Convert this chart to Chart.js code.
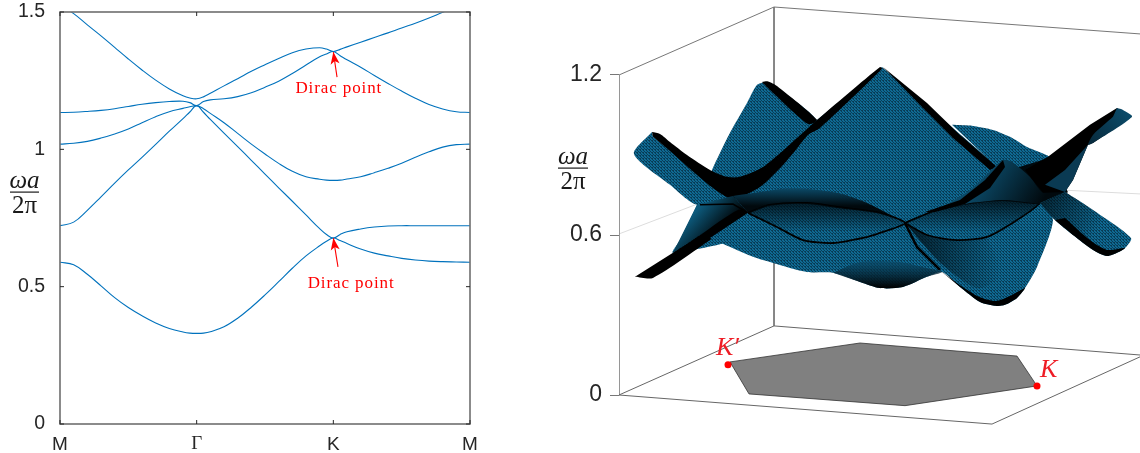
<!DOCTYPE html>
<html>
<head>
<meta charset="utf-8">
<title>Dirac points</title>
<script src="https://cdn.jsdelivr.net/npm/chart.js@4"></script>
<style>
  html, body { margin: 0; background: #fff; overflow: hidden; }
  canvas { position: absolute; top: 0; }
  #bandChart { left: 0; }
  #surfaceChart { left: 530px; }
</style>
</head>
<body>
<canvas id="bandChart" width="500" height="453"></canvas>
<canvas id="surfaceChart" width="610" height="453"></canvas>
<script>
// band diagram
const kPath = [0, 0.1, 0.2, 0.3, 0.4, 0.5, 0.6, 0.7, 0.8, 0.9, 0.95, 1, 1.05, 1.1, 1.2, 1.3, 1.4, 1.5, 1.6, 1.7, 1.8, 1.9, 1.95, 2, 2.05, 2.1, 2.2, 2.3, 2.4, 2.5, 2.6, 2.7, 2.8, 2.9, 3];
const kLabels = ["M", "Γ", "K", "M"];
const freqTicks = [0, 0.5, 1, 1.5];
const band1 = [0.589, 0.58, 0.545, 0.503, 0.46, 0.424, 0.394, 0.368, 0.348, 0.335, 0.331, 0.33, 0.331, 0.336, 0.354, 0.385, 0.425, 0.47, 0.518, 0.567, 0.612, 0.649, 0.665, 0.677, 0.668, 0.657, 0.637, 0.622, 0.612, 0.603, 0.597, 0.593, 0.591, 0.59, 0.589];
const band2 = [0.722, 0.735, 0.778, 0.827, 0.877, 0.925, 0.971, 1.018, 1.066, 1.112, 1.136, 1.159, 1.135, 1.109, 1.059, 1.01, 0.96, 0.91, 0.86, 0.811, 0.761, 0.711, 0.69, 0.677, 0.69, 0.7, 0.71, 0.717, 0.721, 0.722, 0.722, 0.722, 0.722, 0.722, 0.722];
const band3 = [1.019, 1.022, 1.029, 1.041, 1.056, 1.074, 1.097, 1.119, 1.137, 1.149, 1.155, 1.159, 1.148, 1.131, 1.097, 1.058, 1.019, 0.983, 0.949, 0.92, 0.9, 0.891, 0.888, 0.887, 0.888, 0.892, 0.9, 0.915, 0.931, 0.949, 0.971, 0.991, 1.008, 1.017, 1.019];
const band4 = [1.134, 1.135, 1.138, 1.142, 1.148, 1.156, 1.164, 1.17, 1.174, 1.175, 1.17, 1.159, 1.174, 1.18, 1.184, 1.192, 1.206, 1.226, 1.248, 1.276, 1.307, 1.337, 1.347, 1.356, 1.341, 1.326, 1.299, 1.269, 1.24, 1.212, 1.186, 1.163, 1.147, 1.137, 1.134];
const band5 = [1.525, 1.494, 1.453, 1.413, 1.371, 1.329, 1.289, 1.252, 1.22, 1.195, 1.187, 1.184, 1.191, 1.204, 1.231, 1.257, 1.284, 1.308, 1.331, 1.352, 1.365, 1.37, 1.365, 1.356, 1.364, 1.373, 1.39, 1.407, 1.424, 1.442, 1.459, 1.478, 1.499, 1.518, 1.532];
const diracArrows = [[2.027, 1.263, 2, 1.354], [2.034, 0.572, 2, 0.677]];
const diracNotes = [[2.04, 1.222], [2.13, 0.513]];

// 3d panel: outlines as seen in the picture, [across, projected frequency]
const surfaceTicks = [0, 0.6, 1.2];
const boxBack = [[619, 1.2], [774, 1.455], [1140, 1.354]];
const boxBackPost = [[774, 1.455], [774, 0.259]];
const boxPost = [[619, 1.2], [619, 0]];
const boxFloorBack = [[619, 0], [774, 0.259], [1140, 0.15]];
const boxFloorFront = [[619, 0], [992, -0.109], [1140, 0.143]];
const gridLeft = [[619, 0.604], [700, 0.72]];
const gridRight = [[1065, 0.768], [1140, 0.754]];
const zonePatch = [[730, 0.124], [860, 0.195], [1017, 0.146], [1037, 0.034], [905, -0.04], [749, 0.004], [730, 0.124]];
const kPrimePoint = [[728, 0.113]];
const kPoint = [[1037, 0.034]];

const wingBack = [[952, 1.013], [973, 1.009], [993, 0.994], [1010, 0.968], [1027, 0.93], [1050, 0.889], [1027, 0.836], [1000, 0.844]];
const finBack = [[765, 1.174], [757, 1.163], [747, 1.095], [730, 0.983], [712, 0.844], [697, 0.713], [680, 0.581], [673, 0.533], [760, 0.619], [825, 0.919], [817, 1.031], [778, 1.151]];
const finBackEdge = [[762, 1.174], [768, 1.176], [777, 1.159], [817, 1.031], [808, 1.016], [770, 1.144]];
const pyramid = [[882, 1.23], [990, 0.881], [1003, 0.836], [1020, 0.731], [905, 0.645], [748, 0.683], [735, 0.739], [770, 0.844], [817, 1.031]];
const ridgeRight = [[883, 1.23], [927, 1.095], [960, 0.975], [997, 0.855], [990, 0.844], [953, 0.964], [923, 1.076]];
const finFront = [[652, 0.986], [634, 0.904], [670, 0.788], [697, 0.713], [730, 0.739], [733, 0.743], [717, 0.776], [697, 0.836], [670, 0.919], [653, 0.968]];
const ridgeLeft = [[652, 0.986], [660, 0.979], [670, 0.949], [687, 0.9], [710, 0.844], [727, 0.818], [740, 0.818], [763, 0.855], [787, 0.93], [817, 1.031], [880, 1.23], [882, 1.223], [820, 1.001], [808, 0.975], [795, 0.915], [780, 0.85], [760, 0.78], [733, 0.735], [717, 0.765], [697, 0.825], [670, 0.915], [653, 0.968]];
const sheetLeft = [[697, 0.713], [673, 0.533], [700, 0.6], [738, 0.675], [748, 0.683], [733, 0.746]];
const stripLeft = [[635, 0.443], [653, 0.439], [710, 0.581], [748, 0.683], [738, 0.694], [700, 0.6], [673, 0.533]];
const crossLeft = [[700, 0.713], [733, 0.716], [748, 0.683]];
const lensUpper = [[733, 0.746], [760, 0.761], [793, 0.776], [837, 0.758], [867, 0.72], [905, 0.645], [880, 0.683], [837, 0.705], [807, 0.72], [770, 0.713], [748, 0.683]];
const sheetFront = [[748, 0.683], [777, 0.63], [803, 0.581], [833, 0.57], [863, 0.589], [880, 0.608], [905, 0.645], [927, 0.6], [957, 0.581], [987, 0.593], [1017, 0.656], [1040, 0.72], [1053, 0.656], [1037, 0.48], [1025, 0.401], [1017, 0.364], [1005, 0.338], [997, 0.334], [980, 0.349], [960, 0.405], [942, 0.461], [927, 0.443], [903, 0.405], [880, 0.401], [860, 0.424], [833, 0.458], [807, 0.461], [773, 0.495], [753, 0.518], [710, 0.589]];
const lobeDark = [[833, 0.458], [860, 0.499], [900, 0.499], [927, 0.476], [942, 0.461], [927, 0.443], [903, 0.405], [880, 0.401], [860, 0.424]];
const creaseShade = [[905, 0.645], [942, 0.49], [978, 0.4], [1000, 0.45], [985, 0.593], [957, 0.581], [927, 0.6]];
const edgeFront = [[942, 0.461], [960, 0.412], [980, 0.367], [997, 0.353], [1012, 0.375], [1025, 0.401], [1017, 0.364], [1005, 0.338], [997, 0.334], [980, 0.349], [960, 0.405]];
const creaseFront = [[905, 0.645], [917, 0.555], [940, 0.469]];
const lensMiddle = [[748, 0.683], [770, 0.713], [807, 0.72], [837, 0.705], [880, 0.683], [905, 0.645], [880, 0.608], [863, 0.589], [833, 0.57], [803, 0.581], [777, 0.63], [748, 0.683]];
const lensRight = [[905, 0.645], [937, 0.694], [970, 0.72], [1003, 0.731], [1033, 0.72], [1040, 0.72], [1017, 0.656], [987, 0.593], [957, 0.581], [927, 0.6], [905, 0.645]];
const gapRight = [[1015, 0.85], [1050, 0.89], [1068, 0.76], [1040, 0.715], [1015, 0.73]];
const capRight = [[937, 0.694], [970, 0.769], [1003, 0.881], [1012, 0.874], [1030, 0.818], [1043, 0.758], [1065, 0.761], [1040, 0.72], [1033, 0.72], [1003, 0.731], [970, 0.72]];
const ridgeCap = [[925, 0.686], [960, 0.731], [985, 0.806], [1003, 0.881], [1005, 0.855], [990, 0.776], [965, 0.716], [935, 0.686]];
const finBackRight = [[1025, 0.844], [1048, 0.893], [1090, 1.013], [1117, 1.076], [1132, 1.043], [1093, 0.945], [1088, 0.938], [1073, 0.806], [1065, 0.761], [1043, 0.758], [1030, 0.818]];
const finBackTip = [[1117, 1.076], [1123, 1.069], [1132, 1.043], [1093, 0.945], [1088, 0.938], [1093, 0.975], [1113, 1.043]];
const finBackShade = [[1045, 0.788], [1065, 0.844], [1088, 0.938], [1073, 0.806], [1065, 0.761]];
const finRight = [[1065, 0.761], [1093, 0.694], [1131, 0.589], [1125, 0.551], [1117, 0.533], [1107, 0.521], [1093, 0.544], [1073, 0.6], [1055, 0.656], [1040, 0.72]];
const finRightEdge = [[1055, 0.656], [1073, 0.6], [1093, 0.544], [1107, 0.521], [1117, 0.533], [1125, 0.551], [1107, 0.544], [1090, 0.581], [1065, 0.664]];

const lineBlue = "#0072bd";
const axisInk = "#262626";
const redInk = "#ee1c25";

function meshPattern() {
  const tile = document.createElement("canvas");
  tile.width = 3;
  tile.height = 3;
  const c = tile.getContext("2d");
  c.fillStyle = "#083d57";
  c.fillRect(0, 0, 3, 3);
  c.fillStyle = "#0f6a93";
  c.fillRect(0, 0, 1, 1);
  c.fillRect(1, 0, 1, 1);
  c.fillRect(1, 1, 1, 1);
  c.fillRect(2, 1, 1, 1);
  c.fillRect(0, 2, 1, 1);
  return c.createPattern(tile, "repeat");
}

// fixed axis thickness and no label overhang, the plot box has to land exactly
function fitY(width) {
  return (scale) => {
    scale.width = width;
    scale.paddingTop = 0;
    scale.paddingBottom = 0;
  };
}

function fitX(height) {
  return (scale) => {
    scale.height = height;
    scale.paddingLeft = 0;
    scale.paddingRight = 0;
  };
}

// inward matlab style ticks and the frame round the band plot
const bandFrame = {
  id: "bandFrame",
  afterDraw(chart) {
    const { ctx, chartArea: a, scales } = chart;
    ctx.save();
    ctx.strokeStyle = "#6e6e6e";
    ctx.lineWidth = 1.6;
    ctx.strokeRect(a.left, a.top, a.right - a.left, a.bottom - a.top);
    ctx.strokeStyle = axisInk;
    ctx.lineWidth = 1;
    ctx.beginPath();
    freqTicks.forEach((v) => {
      const y = scales.y.getPixelForValue(v);
      ctx.moveTo(a.left, y); ctx.lineTo(a.left + 4, y);
      ctx.moveTo(a.right, y); ctx.lineTo(a.right - 4, y);
    });
    kLabels.forEach((_, i) => {
      const x = scales.x.getPixelForValue(i);
      ctx.moveTo(x, a.top); ctx.lineTo(x, a.top + 4);
      ctx.moveTo(x, a.bottom); ctx.lineTo(x, a.bottom - 4);
    });
    ctx.stroke();

    // arrows
    ctx.strokeStyle = "#f00";
    ctx.fillStyle = "#f00";
    diracArrows.forEach(([x0, y0, x1, y1]) => {
      const ax = scales.x.getPixelForValue(x0), ay = scales.y.getPixelForValue(y0);
      const bx = scales.x.getPixelForValue(x1), by = scales.y.getPixelForValue(y1);
      const ang = Math.atan2(by - ay, bx - ax);
      ctx.lineWidth = 1.1;
      ctx.beginPath(); ctx.moveTo(ax, ay); ctx.lineTo(bx, by); ctx.stroke();
      ctx.save();
      ctx.translate(bx, by);
      ctx.rotate(ang);
      ctx.beginPath();
      ctx.moveTo(0, 0); ctx.lineTo(-12, -4.5); ctx.lineTo(-9, 0); ctx.lineTo(-12, 4.5);
      ctx.closePath(); ctx.fill();
      ctx.restore();
    });

    ctx.font = '17px "Liberation Serif"';
    ctx.letterSpacing = "0.9px";
    ctx.textAlign = "center";
    ctx.textBaseline = "middle";
    diracNotes.forEach(([x, y]) => {
      ctx.fillText("Dirac point", scales.x.getPixelForValue(x), scales.y.getPixelForValue(y));
    });
    ctx.letterSpacing = "0px";
    drawFraction(ctx, 24.5, 192, 14.5);
    ctx.restore();
  },
};

function drawFraction(ctx, cx, barY, halfBar) {
  ctx.fillStyle = "#1a1a1a";
  ctx.textAlign = "center";
  ctx.textBaseline = "alphabetic";
  ctx.font = 'italic 25px "Liberation Serif"';
  ctx.fillText("ωa", cx, barY - 4);
  ctx.font = '25px "Liberation Serif"';
  ctx.fillText("2π", cx, barY + 21);
  ctx.fillRect(cx - halfBar, barY - 0.5, halfBar * 2, 1.2);
}

const surfaceNotes = {
  id: "surfaceNotes",
  afterDraw(chart) {
    const { ctx, scales } = chart;
    ctx.save();
    drawFraction(ctx, 43, 168, 15);
    ctx.fillStyle = redInk;
    ctx.font = 'italic 26px "Liberation Serif"';
    ctx.textAlign = "left";
    ctx.fillText("K′", scales.x.getPixelForValue(716), scales.y.getPixelForValue(0.15));
    ctx.fillText("K", scales.x.getPixelForValue(1040), scales.y.getPixelForValue(0.068));
    ctx.restore();
  },
};

new Chart(document.getElementById("bandChart"), {
  type: "scatter",
  plugins: [bandFrame],
  data: {
    datasets: [band1, band2, band3, band4, band5].map((band) => ({
      data: kPath.map((k, i) => ({ x: k, y: band[i] })),
      showLine: true,
      borderColor: lineBlue,
      borderWidth: 1.1,
      pointRadius: 0,
      tension: 0.4,
    })),
  },
  options: {
    responsive: false,
    animation: false,
    layout: { autoPadding: false, padding: { top: 12, right: 30, bottom: 0, left: 0 } },
    plugins: { legend: { display: false }, tooltip: { enabled: false } },
    scales: {
      x: {
        min: 0,
        max: 3,
        afterBuildTicks: (s) => { s.ticks = kLabels.map((_, i) => ({ value: i })); },
        afterFit: fitX(29),
        grid: { display: false },
        border: { display: false },
        ticks: {
          autoSkip: false,
          maxRotation: 0,
          padding: 1,
          color: axisInk,
          font: (ctx) => ({ family: ctx.tick && ctx.tick.value === 1 ? "Liberation Serif" : "Liberation Sans", size: 19 }),
          callback: (v) => kLabels[v],
        },
      },
      y: {
        min: 0,
        max: 1.5,
        afterBuildTicks: (s) => { s.ticks = freqTicks.map((v) => ({ value: v })); },
        afterFit: fitY(60),
        grid: { display: false },
        border: { display: false },
        ticks: {
          padding: 7,
          color: axisInk,
          font: { family: "Liberation Sans", size: 19.5 },
          callback: (v) => String(v),
        },
      },
    },
  },
});

const mesh = meshPattern();
const deepTeal = "#0a3a53";
const surfaceCtx = document.getElementById("surfaceChart").getContext("2d");

// gradient in page pixels, the canvas starts 530 in
function shade(x0, y0, x1, y1, from, to) {
  const g = surfaceCtx.createLinearGradient(x0 - 530, y0, x1 - 530, y1);
  g.addColorStop(0, from);
  g.addColorStop(1, to);
  return g;
}

function patch(points, fill, edge, edgeWidth) {
  return {
    data: points.map(([x, y]) => ({ x, y })),
    showLine: true,
    fill: fill ? "shape" : false,
    backgroundColor: fill || "transparent",
    borderColor: edge || "transparent",
    borderWidth: edgeWidth === undefined ? 0 : edgeWidth,
    pointRadius: 0,
    tension: 0.25,
  };
}

function outline(points, color, width) {
  return { ...patch(points, null, color, width), tension: 0 };
}

// painter's order, back to front
const surfaceLayers = [
  outline(gridLeft, "#dddddd", 1),
  outline(gridRight, "#dddddd", 1),
  outline(boxBack, "#777", 1),
  outline(boxBackPost, "#777", 1),
  outline(boxPost, "#888", 1),
  outline(boxFloorBack, "#666", 1),
  outline(boxFloorFront, "#666", 1),
  { ...patch(zonePatch, "#808080", "#333", 0.8), tension: 0 },
  patch(wingBack, mesh),
  patch(finBack, mesh),
  patch(finBackEdge, "#000"),
  { ...patch(pyramid, mesh), tension: 0 },
  { ...patch(ridgeRight, "#000"), tension: 0 },
  patch(finFront, mesh),
  patch(ridgeLeft, "#000"),
  { ...patch(sheetLeft, shade(695, 212, 722, 236, "#0d5a7c", "#000")), tension: 0 },
  patch(stripLeft, "#000"),
  outline(crossLeft, "#000", 1.5),
  patch(lensUpper, shade(780, 188, 780, 206, "#0b4a68", "#01090d")),
  patch(sheetFront, mesh),
  patch(creaseShade, shade(905, 0, 1000, 0, "rgba(0,10,15,0.8)", "rgba(0,10,15,0)")),
  patch(lobeDark, shade(880, 262, 880, 288, "rgba(10,69,98,0.6)", "#000")),
  patch(edgeFront, "#000"),
  outline(creaseFront, "#000", 2.5),
  patch(lensMiddle, mesh, "#000", 1.8),
  patch(lensMiddle, shade(820, 205, 820, 232, "rgba(0,10,15,0.75)", "rgba(0,10,15,0)")),
  patch(lensRight, mesh, "#000", 1.8),
  patch(lensRight, shade(980, 200, 980, 232, "rgba(0,10,15,0.8)", "rgba(0,10,15,0)")),
  { ...patch(gapRight, "#01090d"), tension: 0 },
  patch(capRight, shade(985, 170, 1040, 205, "#0b4a68", "#01090d")),
  { ...patch(ridgeCap, "#000"), tension: 0 },
  { ...patch(finBackRight, "#000"), tension: 0 },
  { ...patch(finBackShade, deepTeal), tension: 0 },
  patch(finBackTip, shade(1090, 145, 1125, 112, "#082a3c", "#0b4a68")),
  patch(finRight, mesh),
  patch(finRight, shade(1050, 195, 1100, 225, "rgba(0,10,15,0.65)", "rgba(0,10,15,0)")),
  patch(finRightEdge, "#000"),
  {
    data: kPrimePoint.concat(kPoint).map(([x, y]) => ({ x, y })),
    showLine: false,
    pointRadius: 3.5,
    pointBackgroundColor: "#f00",
    pointBorderWidth: 0,
  },
].reverse();

new Chart(document.getElementById("surfaceChart"), {
  type: "scatter",
  plugins: [surfaceNotes],
  data: { datasets: surfaceLayers },
  options: {
    responsive: false,
    animation: false,
    layout: { autoPadding: false, padding: 0 },
    plugins: { legend: { display: false }, tooltip: { enabled: false } },
    scales: {
      x: { display: false, min: 619, max: 1140 },
      y: {
        min: -0.2175,
        max: 1.48125,
        afterBuildTicks: (s) => { s.ticks = surfaceTicks.map((v) => ({ value: v })); },
        afterFit: fitY(89),
        border: { display: false },
        grid: { drawOnChartArea: false, tickLength: 9, tickColor: "#777" },
        ticks: {
          padding: 8,
          color: axisInk,
          font: { family: "Liberation Sans", size: 23 },
          callback: (v) => String(v),
        },
      },
    },
  },
});
</script>
</body>
</html>
